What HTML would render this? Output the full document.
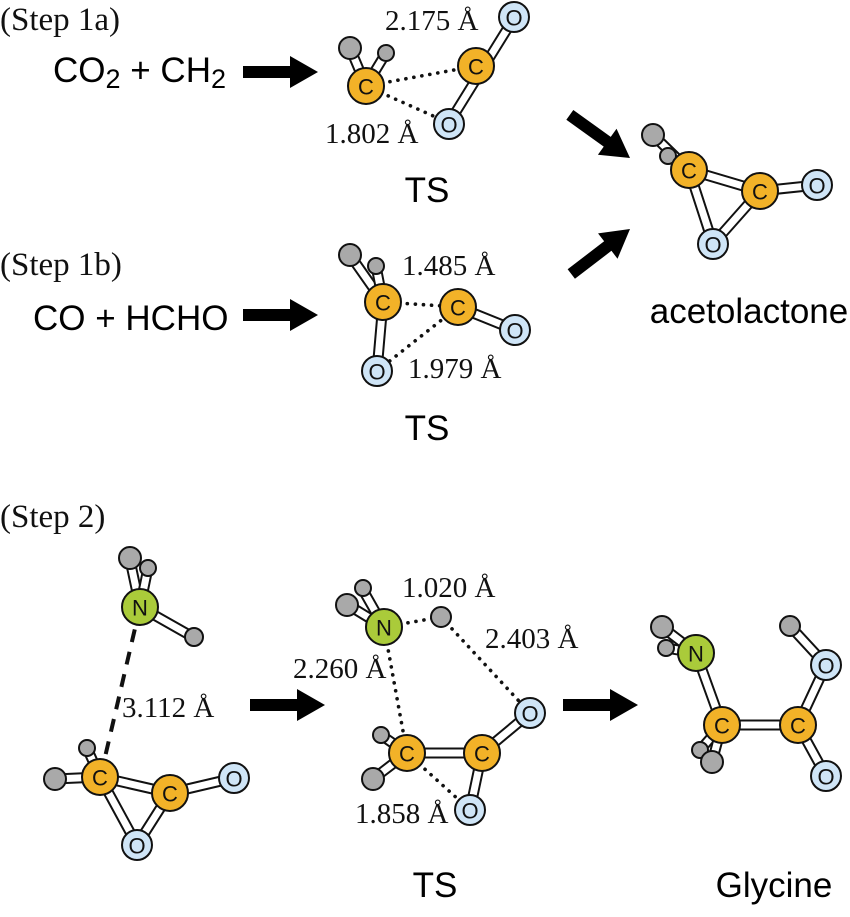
<!DOCTYPE html>
<html><head><meta charset="utf-8"><style>
html,body{margin:0;padding:0;background:#fff;width:850px;height:917px;overflow:hidden}
svg{display:block}
.s{font-family:"Liberation Serif",serif;font-size:29px;fill:#111}
.st{font-family:"Liberation Serif",serif;font-size:33px;fill:#111}
.a{font-family:"Liberation Sans",sans-serif;font-size:35px;fill:#000}
.l{font-family:"Liberation Sans",sans-serif;font-size:22px;fill:#111;text-anchor:middle;dominant-baseline:central}
.bo{stroke:#111;stroke-width:11;stroke-linecap:round}
.bi{stroke:#fff;stroke-width:7;stroke-linecap:round}
.dot{stroke:#111;stroke-width:3.6;stroke-dasharray:0.1 8;stroke-linecap:round;fill:none}
.C{fill:#f2b228;stroke:#111;stroke-width:2}
.O{fill:#cfe5f7;stroke:#111;stroke-width:2}
.N{fill:#aacb3a;stroke:#111;stroke-width:2}
.H{fill:#a9a9a9;stroke:#111;stroke-width:2}
</style></head><body>
<svg width="850" height="917" viewBox="0 0 850 917" xmlns="http://www.w3.org/2000/svg">

<!-- texts -->
<text class="st" x="0" y="30">(Step 1a)</text>
<text class="a" x="53" y="82">CO<tspan font-size="27" dy="6">2</tspan><tspan dy="-6"> + CH</tspan><tspan font-size="27" dy="6">2</tspan></text>
<text class="st" x="0" y="275">(Step 1b)</text>
<text class="a" x="33" y="330">CO + HCHO</text>
<text class="st" x="0" y="527">(Step 2)</text>
<text class="a" x="427" y="202" text-anchor="middle" font-size="36">TS</text>
<text class="a" x="427" y="440" text-anchor="middle" font-size="36">TS</text>
<text class="a" x="749" y="323" text-anchor="middle">acetolactone</text>
<text class="a" x="435" y="897" text-anchor="middle" font-size="36">TS</text>
<text class="a" x="774" y="897" text-anchor="middle">Glycine</text>

<!-- arrows (tip at origin, pointing +x) -->
<g fill="#000">
<polygon transform="translate(318,72)" points="-75,-6 -28,-6 -28,-16 0,0 -28,16 -28,6 -75,6"/>
<polygon transform="translate(318,315)" points="-75,-6 -28,-6 -28,-16 0,0 -28,16 -28,6 -75,6"/>
<polygon transform="translate(630,158) rotate(35.6)" points="-74,-6 -28,-6 -28,-16 0,0 -28,16 -28,6 -74,6"/>
<polygon transform="translate(630,229) rotate(-37.5)" points="-74,-6 -28,-6 -28,-16 0,0 -28,16 -28,6 -74,6"/>
<polygon transform="translate(325,705)" points="-75,-6 -28,-6 -28,-16 0,0 -28,16 -28,6 -75,6"/>
<polygon transform="translate(638,705)" points="-75,-6 -28,-6 -28,-16 0,0 -28,16 -28,6 -75,6"/>
</g>

<!-- Step 1a TS -->
<line class="dot" x1="366" y1="86" x2="476" y2="66"/>
<line class="dot" x1="366" y1="86" x2="449" y2="123"/>
<g><line class="bo" x1="366" y1="86" x2="350" y2="48"/><line class="bi" x1="366" y1="86" x2="350" y2="48"/>
<line class="bo" x1="366" y1="86" x2="386" y2="53"/><line class="bi" x1="366" y1="86" x2="386" y2="53"/>
<line class="bo" x1="514" y1="18" x2="449" y2="123"/><line class="bi" x1="514" y1="18" x2="449" y2="123"/></g>
<circle class="H" cx="350" cy="48" r="11"/><circle class="H" cx="386" cy="53" r="8"/>
<circle class="C" cx="366" cy="86" r="18"/><text class="l" x="366" y="87">C</text>
<circle class="C" cx="476" cy="66" r="18"/><text class="l" x="476" y="67">C</text>
<circle class="O" cx="514" cy="17" r="15"/><text class="l" x="514" y="18">O</text>
<circle class="O" cx="449" cy="124" r="15"/><text class="l" x="449" y="125">O</text>
<text class="s" x="385" y="30">2.175 Å</text>
<text class="s" x="325" y="143">1.802 Å</text>

<!-- acetolactone -->
<g><line class="bo" x1="689" y1="170" x2="653" y2="135"/><line class="bi" x1="689" y1="170" x2="653" y2="135"/>
<line class="bo" x1="689" y1="170" x2="668" y2="156"/><line class="bi" x1="689" y1="170" x2="668" y2="156"/>
<line class="bo" x1="689" y1="170" x2="760" y2="191"/><line class="bi" x1="689" y1="170" x2="760" y2="191"/>
<line class="bo" x1="760" y1="191" x2="817" y2="185"/><line class="bi" x1="760" y1="191" x2="817" y2="185"/>
<line class="bo" x1="689" y1="170" x2="713" y2="244"/><line class="bi" x1="689" y1="170" x2="713" y2="244"/>
<line class="bo" x1="760" y1="191" x2="713" y2="244"/><line class="bi" x1="760" y1="191" x2="713" y2="244"/></g>
<circle class="H" cx="653" cy="135" r="11"/><circle class="H" cx="668" cy="156" r="8"/>
<circle class="C" cx="689" cy="170" r="18"/><text class="l" x="689" y="171">C</text>
<circle class="C" cx="760" cy="191" r="18"/><text class="l" x="760" y="192">C</text>
<circle class="O" cx="817" cy="185" r="15"/><text class="l" x="817" y="186">O</text>
<circle class="O" cx="713" cy="244" r="15"/><text class="l" x="713" y="245">O</text>

<!-- Step 1b TS -->
<line class="dot" x1="383" y1="302" x2="458" y2="307"/>
<line class="dot" x1="377" y1="371" x2="458" y2="307"/>
<g><line class="bo" x1="383" y1="302" x2="350" y2="255"/><line class="bi" x1="383" y1="302" x2="350" y2="255"/>
<line class="bo" x1="383" y1="302" x2="376" y2="266"/><line class="bi" x1="383" y1="302" x2="376" y2="266"/>
<line class="bo" x1="383" y1="302" x2="377" y2="371"/><line class="bi" x1="383" y1="302" x2="377" y2="371"/>
<line class="bo" x1="458" y1="307" x2="515" y2="330"/><line class="bi" x1="458" y1="307" x2="515" y2="330"/></g>
<circle class="H" cx="376" cy="266" r="8"/><circle class="H" cx="350" cy="255" r="11"/>
<circle class="C" cx="383" cy="302" r="18"/><text class="l" x="383" y="303">C</text>
<circle class="C" cx="458" cy="307" r="18"/><text class="l" x="458" y="308">C</text>
<circle class="O" cx="515" cy="330" r="15"/><text class="l" x="515" y="331">O</text>
<circle class="O" cx="377" cy="371" r="15"/><text class="l" x="377" y="372">O</text>
<text class="s" x="402" y="275">1.485 Å</text>
<text class="s" x="408" y="378">1.979 Å</text>

<!-- Step 2 reactants -->
<line x1="140" y1="607" x2="102" y2="770" stroke="#111" stroke-width="4" stroke-dasharray="13 10"/>
<g><line class="bo" x1="140" y1="607" x2="130" y2="560"/><line class="bi" x1="140" y1="607" x2="130" y2="560"/>
<line class="bo" x1="140" y1="607" x2="148" y2="568"/><line class="bi" x1="140" y1="607" x2="148" y2="568"/>
<line class="bo" x1="140" y1="607" x2="193" y2="637"/><line class="bi" x1="140" y1="607" x2="193" y2="637"/>
<line class="bo" x1="100" y1="777" x2="55" y2="779"/><line class="bi" x1="100" y1="777" x2="55" y2="779"/>
<line class="bo" x1="100" y1="777" x2="87" y2="748"/><line class="bi" x1="100" y1="777" x2="87" y2="748"/>
<line class="bo" x1="100" y1="777" x2="170" y2="793"/><line class="bi" x1="100" y1="777" x2="170" y2="793"/>
<line class="bo" x1="170" y1="793" x2="234" y2="778"/><line class="bi" x1="170" y1="793" x2="234" y2="778"/>
<line class="bo" x1="100" y1="777" x2="137" y2="845"/><line class="bi" x1="100" y1="777" x2="137" y2="845"/>
<line class="bo" x1="170" y1="793" x2="137" y2="845"/><line class="bi" x1="170" y1="793" x2="137" y2="845"/></g>
<circle class="H" cx="130" cy="558" r="11"/><circle class="H" cx="148" cy="568" r="8"/><circle class="H" cx="194" cy="637" r="9"/>
<circle class="N" cx="140" cy="607" r="18"/><text class="l" x="140" y="608">N</text>
<circle class="H" cx="55" cy="779" r="11"/><circle class="H" cx="87" cy="748" r="8"/>
<circle class="C" cx="100" cy="777" r="18"/><text class="l" x="100" y="778">C</text>
<circle class="C" cx="170" cy="793" r="18"/><text class="l" x="170" y="794">C</text>
<circle class="O" cx="234" cy="778" r="15"/><text class="l" x="234" y="779">O</text>
<circle class="O" cx="137" cy="845" r="15"/><text class="l" x="137" y="846">O</text>
<text class="s" x="122" y="717">3.112 Å</text>

<!-- Step 2 TS -->
<line class="dot" x1="384" y1="627" x2="441" y2="617"/>
<line class="dot" x1="441" y1="617" x2="530" y2="713"/>
<line class="dot" x1="384" y1="627" x2="407" y2="753"/>
<line class="dot" x1="407" y1="753" x2="470" y2="810"/>
<g><line class="bo" x1="384" y1="627" x2="348" y2="605"/><line class="bi" x1="384" y1="627" x2="348" y2="605"/>
<line class="bo" x1="384" y1="627" x2="363" y2="590"/><line class="bi" x1="384" y1="627" x2="363" y2="590"/>
<line class="bo" x1="407" y1="753" x2="381" y2="735"/><line class="bi" x1="407" y1="753" x2="381" y2="735"/>
<line class="bo" x1="407" y1="753" x2="373" y2="779"/><line class="bi" x1="407" y1="753" x2="373" y2="779"/>
<line class="bo" x1="407" y1="753" x2="482" y2="753"/><line class="bi" x1="407" y1="753" x2="482" y2="753"/>
<line class="bo" x1="482" y1="753" x2="530" y2="713"/><line class="bi" x1="482" y1="753" x2="530" y2="713"/>
<line class="bo" x1="482" y1="753" x2="470" y2="810"/><line class="bi" x1="482" y1="753" x2="470" y2="810"/></g>
<circle class="H" cx="363" cy="588" r="8"/><circle class="H" cx="347" cy="605" r="11"/>
<circle class="N" cx="384" cy="627" r="18"/><text class="l" x="384" y="628">N</text>
<circle class="H" cx="441" cy="617" r="10"/>
<circle class="H" cx="381" cy="735" r="8"/><circle class="H" cx="373" cy="779" r="11"/>
<circle class="C" cx="407" cy="753" r="18"/><text class="l" x="407" y="754">C</text>
<circle class="C" cx="482" cy="753" r="18"/><text class="l" x="482" y="754">C</text>
<circle class="O" cx="530" cy="713" r="15"/><text class="l" x="530" y="714">O</text>
<circle class="O" cx="470" cy="810" r="15"/><text class="l" x="470" y="811">O</text>
<text class="s" x="402" y="597">1.020 Å</text>
<text class="s" x="485" y="648">2.403 Å</text>
<text class="s" x="293" y="678">2.260 Å</text>
<text class="s" x="355" y="823">1.858 Å</text>

<!-- Glycine -->
<g><line class="bo" x1="696" y1="653" x2="662" y2="627"/><line class="bi" x1="696" y1="653" x2="662" y2="627"/>
<line class="bo" x1="696" y1="653" x2="666" y2="648"/><line class="bi" x1="696" y1="653" x2="666" y2="648"/>
<line class="bo" x1="696" y1="653" x2="722" y2="725"/><line class="bi" x1="696" y1="653" x2="722" y2="725"/>
<line class="bo" x1="722" y1="725" x2="700" y2="750"/><line class="bi" x1="722" y1="725" x2="700" y2="750"/>
<line class="bo" x1="722" y1="725" x2="712" y2="762"/><line class="bi" x1="722" y1="725" x2="712" y2="762"/>
<line class="bo" x1="722" y1="725" x2="798" y2="725"/><line class="bi" x1="722" y1="725" x2="798" y2="725"/>
<line class="bo" x1="798" y1="725" x2="826" y2="665"/><line class="bi" x1="798" y1="725" x2="826" y2="665"/>
<line class="bo" x1="798" y1="725" x2="826" y2="776"/><line class="bi" x1="798" y1="725" x2="826" y2="776"/>
<line class="bo" x1="826" y1="665" x2="790" y2="626"/><line class="bi" x1="826" y1="665" x2="790" y2="626"/></g>
<circle class="H" cx="662" cy="627" r="11"/><circle class="H" cx="666" cy="648" r="8"/>
<circle class="N" cx="696" cy="653" r="18"/><text class="l" x="696" y="654">N</text>
<circle class="H" cx="700" cy="750" r="8"/><circle class="H" cx="712" cy="762" r="11"/>
<circle class="C" cx="722" cy="725" r="18"/><text class="l" x="722" y="726">C</text>
<circle class="C" cx="798" cy="725" r="18"/><text class="l" x="798" y="726">C</text>
<circle class="H" cx="790" cy="626" r="10"/>
<circle class="O" cx="826" cy="665" r="15"/><text class="l" x="826" y="666">O</text>
<circle class="O" cx="826" cy="776" r="15"/><text class="l" x="826" y="777">O</text>
</svg>
</body></html>
